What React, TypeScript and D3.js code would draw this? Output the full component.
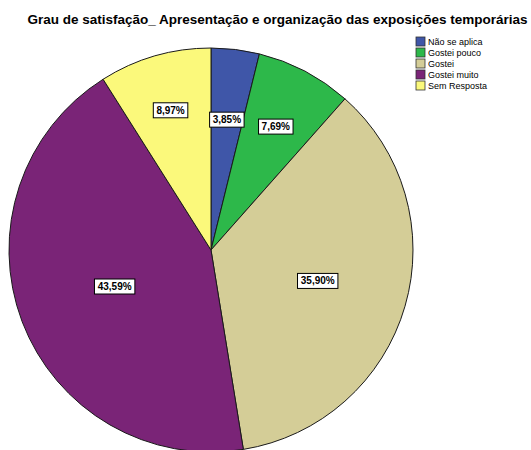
import React from "react";
import * as d3 from "d3";

const categories = ["Não se aplica", "Gostei pouco", "Gostei", "Gostei muito", "Sem Resposta"];
const values = [3.85, 7.69, 35.9, 43.59, 8.97];
const labels = ["3,85%", "7,69%", "35,90%", "43,59%", "8,97%"];
const colors = ["#3F56A8", "#2DB84A", "#D4CD97", "#7A2477", "#FBF97B"];
const labelRadiusFrac = [0.65, 0.69, 0.55, 0.51, 0.72];

const W = 531;
const H = 450;
const cx = 211;
const cy = 250;
const R = 202;

export default function App() {
  const pie = d3.pie<number>().sort(null).value((d) => d)(values);
  const arc = d3.arc<d3.PieArcDatum<number>>().innerRadius(0).outerRadius(R);
  return (
    <svg
      width={W}
      height={H}
      style={{ position: "absolute", left: 0, top: 0, background: "#fff" }}
      fontFamily="'Liberation Sans', Arial, sans-serif"
    >
      <text x={277.5} y={24} textAnchor="middle" fontSize={13.5} fontWeight="bold" fill="#000">
        Grau de satisfação_ Apresentação e organização das exposições temporárias
      </text>
      <g transform={`translate(${cx},${cy})`}>
        {pie.map((p, i) => (
          <path key={i} d={arc(p) || ""} fill={colors[i]} stroke="#1a1a1a" strokeWidth={1} />
        ))}
        {pie.map((p, i) => {
          const a = (p.startAngle + p.endAngle) / 2;
          const r = R * labelRadiusFrac[i];
          const x = Math.sin(a) * r;
          const y = -Math.cos(a) * r;
          const w = labels[i].length * 5.9 + 5;
          return (
            <g key={"l" + i} transform={`translate(${x},${y})`}>
              <rect x={-w / 2} y={-7.5} width={w} height={15} fill="#fff" stroke="#000" strokeWidth={1} />
              <text x={0} y={3.5} textAnchor="middle" fontSize={10} fontWeight="bold" fill="#000">
                {labels[i]}
              </text>
            </g>
          );
        })}
      </g>
      <g>
        {categories.map((c, i) => (
          <g key={c} transform={`translate(416,${37 + i * 11})`}>
            <rect x={0} y={0} width={9} height={9} fill={colors[i]} stroke="#333" strokeWidth={0.8} />
            <text x={12} y={8} fontSize={9} fill="#000">
              {c}
            </text>
          </g>
        ))}
      </g>
    </svg>
  );
}
